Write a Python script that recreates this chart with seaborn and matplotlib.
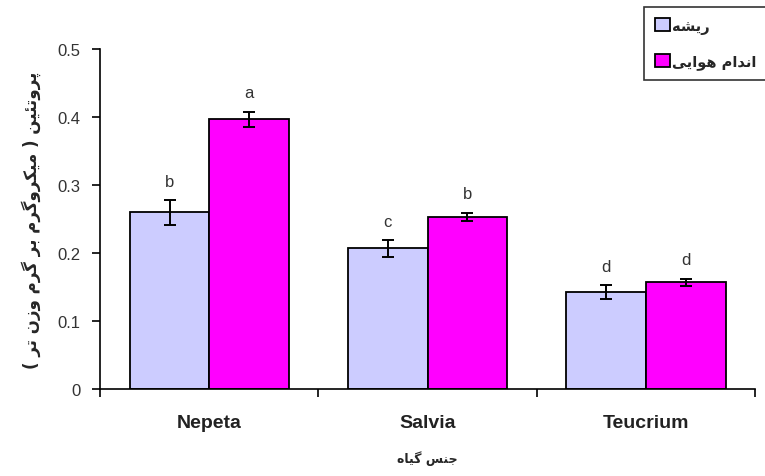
import matplotlib
matplotlib.use("Agg")
import matplotlib.pyplot as plt
from matplotlib.patches import Patch
import numpy as np
import pandas as pd
import seaborn as sns

# data
genera = ["Nepeta", "Salvia", "Teucrium"]
series = ["ریشه", "اندام هوایی"]
root_mean = [0.260, 0.207, 0.143]
root_err = [0.018, 0.012, 0.010]
aerial_mean = [0.397, 0.253, 0.157]
aerial_err = [0.011, 0.006, 0.005]
root_letters = ["b", "c", "d"]
aerial_letters = ["a", "b", "d"]
y_ticks = [0, 0.1, 0.2, 0.3, 0.4, 0.5]
y_tick_labels = ["0", "0.1", "0.2", "0.3", "0.4", "0.5"]
y_label = "پروتئین ( میکروگرم بر گرم وزن تر )"
x_label = "جنس گیاه"

COLORS = ["#CCCCFF", "#FF00FF"]

# (isolated, final, initial, medial); None -> does not join the next letter
FORMS = {
    "ا": ("\uFE8D", "\uFE8E", None, None),
    "ب": ("\uFE8F", "\uFE90", "\uFE91", "\uFE92"),
    "پ": ("\uFB56", "\uFB57", "\uFB58", "\uFB59"),
    "ت": ("\uFE95", "\uFE96", "\uFE97", "\uFE98"),
    "ج": ("\uFE9D", "\uFE9E", "\uFE9F", "\uFEA0"),
    "د": ("\uFEA9", "\uFEAA", None, None),
    "ر": ("\uFEAD", "\uFEAE", None, None),
    "ز": ("\uFEAF", "\uFEB0", None, None),
    "س": ("\uFEB1", "\uFEB2", "\uFEB3", "\uFEB4"),
    "ش": ("\uFEB5", "\uFEB6", "\uFEB7", "\uFEB8"),
    "ک": ("\uFB8E", "\uFB8F", "\uFB90", "\uFB91"),
    "گ": ("\uFB92", "\uFB93", "\uFB94", "\uFB95"),
    "م": ("\uFEE1", "\uFEE2", "\uFEE3", "\uFEE4"),
    "ن": ("\uFEE5", "\uFEE6", "\uFEE7", "\uFEE8"),
    "ه": ("\uFEE9", "\uFEEA", "\uFEEB", "\uFEEC"),
    "و": ("\uFEED", "\uFEEE", None, None),
    "ی": ("\uFBFC", "\uFBFD", "\uFBFE", "\uFBFF"),
    "ئ": ("\uFE89", "\uFE8A", "\uFE8B", "\uFE8C"),
}


def persian(text):
    """Shape Persian letters and put them in visual (left-to-right) order."""
    out = []
    for i, ch in enumerate(text):
        if ch not in FORMS:
            out.append(ch)
            continue
        prev = text[i - 1] if i > 0 else ""
        nxt = text[i + 1] if i + 1 < len(text) else ""
        joins_prev = prev in FORMS and FORMS[prev][2] is not None
        joins_next = nxt in FORMS and FORMS[ch][2] is not None
        iso, fin, ini, med = FORMS[ch]
        if joins_prev and joins_next:
            out.append(med)
        elif joins_prev:
            out.append(fin)
        elif joins_next:
            out.append(ini)
        else:
            out.append(iso)
    vis = "".join(reversed(out))
    return vis.translate(str.maketrans("()", ")("))


sns.set_theme(style="white")
plt.rcParams["font.family"] = ["Liberation Sans", "DejaVu Sans"]

df = pd.DataFrame({
    "genus": genera * 2,
    "part": [series[0]] * 3 + [series[1]] * 3,
    "value": root_mean + aerial_mean,
    "err": root_err + aerial_err,
    "letter": root_letters + aerial_letters,
})

fig = plt.figure(figsize=(7.65, 4.77), dpi=100)
ax = fig.add_axes([0.131, 0.182, 0.856, 0.713])

sns.barplot(
    data=df, x="genus", y="value", hue="part", order=genera,
    hue_order=series, palette=COLORS, width=0.73, gap=0,
    edgecolor="black", linewidth=1.3, saturation=1, errorbar=None,
    legend=False, ax=ax,
)

for cont, name in zip(ax.containers, series):
    sub = df[df["part"] == name].set_index("genus").loc[genera]
    for bar, (_, row) in zip(cont, sub.iterrows()):
        cx = bar.get_x() + bar.get_width() / 2
        ax.errorbar(cx, row["value"], yerr=row["err"], fmt="none",
                    ecolor="black", elinewidth=1.4, capsize=4.5, capthick=1.4)
        ax.text(cx, row["value"] + row["err"] + 0.017, row["letter"],
                ha="center", va="bottom", fontsize=12, color="#333333")

ax.set_xlim(-0.5, 2.5)
ax.set_ylim(0, 0.5)
ax.set_yticks(y_ticks)
ax.set_yticklabels(y_tick_labels, fontsize=12, color="#333333")
ax.set_xticks(range(len(genera)))
ax.set_xticklabels(genera, fontsize=14, fontweight="bold", color="#222222")
ax.set_xticks([-0.5, 0.5, 1.5, 2.5], minor=True)
ax.tick_params(axis="x", which="major", length=0, pad=18)
ax.tick_params(axis="x", which="minor", length=6, width=1.2, direction="out",
               bottom=True, color="black")
ax.tick_params(axis="y", length=6, width=1.2, direction="out", left=True,
               color="black", pad=8)

for side in ["top", "right"]:
    ax.spines[side].set_visible(False)
for side in ["left", "bottom"]:
    ax.spines[side].set_color("black")
    ax.spines[side].set_linewidth(1.2)

ax.set_xlabel(persian(x_label), fontsize=9, fontweight="bold",
              family="DejaVu Sans", labelpad=14)
ax.set_ylabel(persian(y_label), fontsize=12, fontweight="bold",
              family="DejaVu Sans", labelpad=12)

handles = [Patch(facecolor=c, edgecolor="black", linewidth=1.3) for c in COLORS]
leg = fig.legend(handles, [persian(s) for s in series],
                 loc="upper left", bbox_to_anchor=(644 / 765, 1 - 8 / 477),
                 borderaxespad=0, frameon=True, fancybox=False,
                 handlelength=1.0, handleheight=1.0, handletextpad=0.2,
                 borderpad=0.75, labelspacing=1.35,
                 prop={"family": "DejaVu Sans", "weight": "bold", "size": 10.5})
leg.get_frame().set_edgecolor("black")
leg.get_frame().set_linewidth(1.2)

fig.savefig("out.png", dpi=100)
